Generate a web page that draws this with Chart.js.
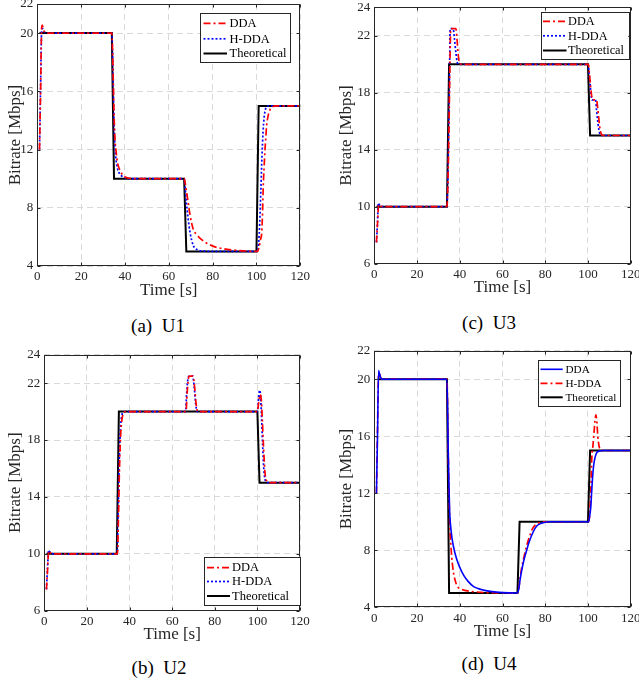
<!DOCTYPE html>
<html>
<head>
<meta charset="utf-8">
<script src="https://cdn.jsdelivr.net/npm/chart.js@4.4.1/dist/chart.umd.min.js"></script>
<style>
html,body{margin:0;padding:0;background:#fff;overflow:hidden;}
body{width:639px;height:681px;position:relative;}
canvas{position:absolute;}
.cap{position:absolute;font-family:"Liberation Serif","Times New Roman",serif;font-size:19px;color:#000;white-space:pre;transform:translate(-50%,-50%);}
</style>
</head>
<body>
<canvas id="u1"></canvas>
<canvas id="u3"></canvas>
<canvas id="u2"></canvas>
<canvas id="u4"></canvas>
<div class="cap" style="left:158px;top:326px">(a)  U1</div>
<div class="cap" style="left:489px;top:323px">(c)  U3</div>
<div class="cap" style="left:159px;top:668px">(b)  U2</div>
<div class="cap" style="left:489px;top:664px">(d)  U4</div>
<script>
const FONT = '"Liberation Serif", "Times New Roman", serif';

// tick labels
const xTicks = [0, 20, 40, 60, 80, 100, 120];
const yTicksU1 = [4, 8, 12, 16, 20, 22];
const yTicksU2 = [6, 10, 14, 18, 22, 24];
const yTicksU3 = [6, 10, 14, 18, 22, 24];
const yTicksU4 = [4, 8, 12, 16, 20, 22];

// U1
const theoTimeU1 = [1, 34, 35, 67, 68, 100, 101, 120];
const theoU1 = [20, 20, 10, 10, 5, 5, 15, 15];
const ddaTimeU1 = [1, 1.5, 2, 2.3, 2.7, 3.2, 4, 34, 34.3, 34.7, 35.1, 35.5, 36, 36.5, 37, 37.8, 38.5, 40, 42, 45, 67, 67.5, 68, 68.7, 69.7, 71.2, 72.8, 74.3, 77, 80.4, 85, 89.5, 95, 100.5, 101.2, 101.8, 102.4, 102.8, 103.1, 103.5, 103.9, 104.3, 104.6, 105.3, 106.2, 107.5, 109.2, 120];
const ddaU1 = [12, 16, 20.4, 20.55, 20.3, 20.1, 20, 20, 19, 16.5, 14, 12.6, 11.8, 11.2, 10.85, 10.55, 10.35, 10.12, 10.03, 10, 10, 9.7, 9.2, 8.5, 7.5, 6.5, 6.15, 5.9, 5.6, 5.35, 5.18, 5.1, 5.03, 5, 5.3, 5.8, 6.3, 7.8, 9.5, 10.8, 12, 12.9, 13.6, 14.3, 14.75, 14.95, 15, 15];
const hddaTimeU1 = [1, 1.5, 2, 2.5, 3, 4, 34, 34.3, 34.7, 35.1, 35.5, 36, 36.5, 37, 38, 40, 43, 67, 67.5, 68, 68.7, 69.7, 71.2, 73, 76, 80, 100.5, 101, 101.5, 102, 102.5, 103, 103.5, 104, 104.7, 106, 120];
const hddaU1 = [12, 16.3, 20.2, 20.3, 20.15, 20, 20, 18.8, 16, 13.5, 12, 11.2, 10.75, 10.5, 10.25, 10.06, 10, 10, 9.3, 8.4, 7.4, 6.3, 5.4, 5.12, 5.03, 5, 5, 5.6, 7, 9.2, 11.5, 13.2, 14.2, 14.7, 14.95, 15, 15];

// U2
const theoTimeU2 = [1, 34, 35, 100, 101, 120];
const theoU2 = [10, 10, 20, 20, 15, 15];
const ddaTimeU2 = [1, 1.5, 2, 2.5, 3, 5, 34.3, 34.8, 35.2, 35.6, 36, 36.5, 37, 38, 66.5, 67, 67.6, 68.2, 69.8, 70.5, 71.2, 72, 100, 100.5, 101.3, 101.8, 102.3, 102.8, 103.3, 103.8, 104.5, 105.5, 120];
const ddaU2 = [7.5, 8.8, 10.1, 10.2, 10.05, 10, 10, 12.5, 15.5, 17.5, 18.8, 19.5, 19.8, 20, 20, 21.2, 22.3, 22.5, 22.5, 21.8, 20.6, 20, 20, 20.5, 21.2, 20.9, 19.5, 17.8, 16.3, 15.4, 15.1, 15, 15];
const hddaTimeU2 = [1, 1.5, 2, 2.5, 3, 5, 34.2, 34.7, 35.1, 35.5, 36, 36.5, 37, 38, 66.3, 66.8, 67.4, 68, 69.6, 70.3, 71, 71.8, 100, 100.4, 101, 101.5, 102, 102.5, 103, 103.5, 104.2, 105, 120];
const hddaU2 = [7.5, 9, 10.25, 10.15, 10.05, 10, 10, 13, 16, 18, 19.3, 19.8, 19.95, 20, 20, 21.3, 22.3, 22.5, 22.5, 21.8, 20.6, 20, 20, 20.6, 21.5, 21.1, 19.4, 17.5, 16, 15.3, 15.05, 15, 15];

// U3
const theoTimeU3 = [1, 34, 35, 100, 101, 120];
const theoU3 = [10, 10, 20, 20, 15, 15];
const ddaTimeU3 = [1, 1.5, 2, 2.5, 3, 4, 34, 34.5, 35, 35.4, 35.8, 38.2, 38.7, 39.2, 39.8, 41, 100.2, 100.7, 101.2, 101.8, 102.2, 104, 104.5, 105, 105.5, 106, 106.5, 107.5, 120];
const ddaU3 = [7.5, 8.8, 10.1, 10.15, 10.05, 10, 10, 12, 16, 20, 22.5, 22.5, 21.8, 20.8, 20.1, 20, 20, 19.3, 18.5, 17.7, 17.5, 17.5, 17, 16.3, 15.6, 15.2, 15.05, 15, 15];
const hddaTimeU3 = [1, 1.5, 1.8, 2.3, 3, 4, 34, 34.5, 35, 35.3, 35.5, 36.9, 37.5, 38.2, 38.9, 40, 100.1, 100.5, 101, 101.5, 101.8, 103.5, 104, 104.5, 105, 105.5, 106.5, 120];
const hddaU3 = [7.5, 8.9, 10.25, 10.15, 10.05, 10, 10, 12.5, 17, 20.5, 22.5, 22.5, 21.8, 20.8, 20.1, 20, 20, 19.4, 18.6, 17.8, 17.5, 17.5, 16.8, 16.1, 15.5, 15.15, 15, 15];

// U4
const theoTimeU4 = [1.5, 34, 35, 67, 68, 100, 101, 120];
const theoU4 = [20, 20, 5, 5, 10, 10, 15, 15];
const ddaTimeU4 = [1, 1.5, 2, 2.4, 3, 4, 34, 34.6, 35.2, 36, 37, 38.5, 40, 42, 44, 46.5, 50, 55, 60, 67, 67.5, 68.2, 69, 70, 71.3, 72.5, 74.4, 76, 77.5, 80, 82, 100.3, 100.8, 101.3, 101.7, 102.2, 102.7, 103.3, 104.1, 105.5, 107, 120];
const ddaU4 = [12, 16, 20.6, 20.4, 20.1, 20, 20, 15, 11, 9.3, 8.3, 7.4, 6.8, 6.2, 5.8, 5.45, 5.25, 5.1, 5.03, 5, 5.2, 5.9, 6.6, 7.3, 8, 8.6, 9.3, 9.7, 9.85, 9.97, 10, 10, 10.4, 11, 12, 13.2, 14, 14.5, 14.85, 14.97, 15, 15];
const hddaTimeU4 = [1, 1.5, 2, 2.4, 3, 4, 34, 34.6, 35.2, 36, 37, 38, 39, 41, 45, 50, 55, 67, 67.5, 68.2, 69, 70, 71.3, 72.5, 74, 75.5, 77.5, 80, 100.3, 100.8, 101.3, 101.8, 102.3, 102.8, 103.3, 103.7, 104.1, 104.6, 105.2, 106, 107, 120];
const hddaU4 = [12, 16.5, 20.3, 20.4, 20.1, 20, 20, 15, 10.5, 8, 6.5, 5.8, 5.45, 5.25, 5.12, 5.05, 5.02, 5, 5.2, 6, 6.8, 7.5, 8.3, 8.9, 9.5, 9.8, 9.95, 10, 10, 10.5, 12, 14.5, 15.3, 16.2, 17.1, 17.5, 17.1, 16, 15.3, 15.05, 15, 15];

const styles = {
  redDashDot: {color: '#ff0000', width: 1.7, dash: [7, 3, 2, 3], smooth: true},
  blueDot: {color: '#0000ff', width: 1.7, dash: [2, 2], smooth: true},
  blueSolid: {color: '#0000ff', width: 1.6, dash: [], smooth: true},
  black: {color: '#000000', width: 2, dash: [], smooth: false}
};

// page coordinates: canvas [left, top, width, height], plot area [left, top, right, bottom]
const panels = [
  {id: 'u1', canvas: [0, -12, 320, 313], area: [37.3, 4, 300.3, 266], yTitleX: 16,
   yTicks: yTicksU1, yRange: [4, 22],
   legend: {box: [200.3, 13.3, 290.3, 62.3], rows: [23.3, 38.8, 53.5], line: [203.5, 227], text: 229.5, size: 12.5},
   series: [
     {label: 'DDA', t: ddaTimeU1, v: ddaU1, style: 'redDashDot'},
     {label: 'H-DDA', t: hddaTimeU1, v: hddaU1, style: 'blueDot'},
     {label: 'Theoretical', t: theoTimeU1, v: theoU1, style: 'black'}
   ]},
  {id: 'u3', canvas: [330, -8, 330, 306], area: [374.3, 7.3, 630.7, 263.7], yTitleX: 346.7,
   yTicks: yTicksU3, yRange: [6, 24],
   legend: {box: [540.7, 12, 628.3, 58.7], rows: [21.3, 35.8, 50.5], line: [543, 566.5], text: 568, size: 12.3},
   series: [
     {label: 'DDA', t: ddaTimeU3, v: ddaU3, style: 'redDashDot'},
     {label: 'H-DDA', t: hddaTimeU3, v: hddaU3, style: 'blueDot'},
     {label: 'Theoretical', t: theoTimeU3, v: theoU3, style: 'black'}
   ]},
  {id: 'u2', canvas: [0, 340, 320, 305], area: [44.3, 354.7, 300, 610.7], yTitleX: 16,
   yTicks: yTicksU2, yRange: [6, 24],
   legend: {box: [204, 556.7, 300, 605], rows: [567.7, 581.5, 596], line: [207, 230], text: 232, size: 12.5},
   series: [
     {label: 'DDA', t: ddaTimeU2, v: ddaU2, style: 'redDashDot'},
     {label: 'H-DDA', t: hddaTimeU2, v: hddaU2, style: 'blueDot'},
     {label: 'Theoretical', t: theoTimeU2, v: theoU2, style: 'black'}
   ]},
  {id: 'u4', canvas: [330, 340, 330, 302], area: [374.3, 350.7, 630.7, 607.3], yTitleX: 346.7,
   yTicks: yTicksU4, yRange: [4, 22],
   legend: {box: [538.3, 360, 620.7, 406], rows: [369.3, 383.3, 397.3], line: [540.5, 562.7], text: 565.5, size: 11.2},
   series: [
     {label: 'DDA', t: ddaTimeU4, v: ddaU4, style: 'blueSolid'},
     {label: 'H-DDA', t: hddaTimeU4, v: hddaU4, style: 'redDashDot'},
     {label: 'Theoretical', t: theoTimeU4, v: theoU4, style: 'black'}
   ]}
];

// box around the axes plus small inward ticks, like matlab
const framePlugin = {
  id: 'frame',
  afterDatasetsDraw(chart){
    const {ctx, chartArea: a, scales: {x, y}} = chart;
    const l = Math.round(a.left) + 0.5, r = Math.round(a.right) - 0.5;
    const t = Math.round(a.top) + 0.5, b = Math.round(a.bottom) - 0.5;
    ctx.save();
    ctx.strokeStyle = '#262626';
    ctx.lineWidth = 1;
    ctx.setLineDash([]);
    ctx.strokeRect(l, t, r - l, b - t);
    ctx.beginPath();
    x.ticks.forEach(tk=>{
      const px = Math.round(x.getPixelForValue(tk.value)) + 0.5;
      ctx.moveTo(px, b); ctx.lineTo(px, b - 3);
      ctx.moveTo(px, t); ctx.lineTo(px, t + 3);
    });
    y.ticks.forEach(tk=>{
      const py = Math.round(y.getPixelForValue(tk.value)) + 0.5;
      ctx.moveTo(l, py); ctx.lineTo(l + 3, py);
      ctx.moveTo(r, py); ctx.lineTo(r - 3, py);
    });
    ctx.stroke();
    ctx.restore();
  }
};

const legendPlugin = {
  id: 'boxLegend',
  afterDraw(chart, args, opts){
    const ctx = chart.ctx;
    const [l, t, r, b] = opts.box;
    ctx.save();
    ctx.fillStyle = '#fff';
    ctx.fillRect(l, t, r - l, b - t);
    ctx.strokeStyle = '#262626';
    ctx.lineWidth = 1;
    ctx.setLineDash([]);
    ctx.strokeRect(Math.round(l) + 0.5, Math.round(t) + 0.5, Math.round(r - l), Math.round(b - t));
    ctx.font = `${opts.size}px ${FONT}`;
    ctx.textBaseline = 'middle';
    chart.data.datasets.forEach((ds, i)=>{
      const yy = opts.rows[i];
      ctx.strokeStyle = ds.borderColor;
      ctx.lineWidth = ds.borderWidth;
      ctx.setLineDash(ds.borderDash || []);
      ctx.beginPath();
      ctx.moveTo(opts.line[0], yy);
      ctx.lineTo(opts.line[1], yy);
      ctx.stroke();
      ctx.fillStyle = '#000';
      ctx.fillText(ds.label, opts.text, yy + 0.5);
    });
    ctx.restore();
  }
};

function zeroPad(s){
  s.paddingLeft = 0; s.paddingRight = 0; s.paddingTop = 0; s.paddingBottom = 0;
}

function makePanel(p){
  const [cl, ct, cw, ch] = p.canvas;
  const [al, at, ar, ab] = p.area;
  const el = document.getElementById(p.id);
  el.width = cw; el.height = ch;
  el.style.left = cl + 'px'; el.style.top = ct + 'px';
  el.style.width = cw + 'px'; el.style.height = ch + 'px';

  const yW = al - cl;
  const xH = (ct + ch) - ab;
  const titleLH = 17 * 1.2;

  const datasets = p.series.map(s=>{
    const st = styles[s.style];
    return {
      label: s.label,
      data: s.t.map((x, i)=>({x, y: s.v[i]})),
      borderColor: st.color,
      borderWidth: st.width,
      borderDash: st.dash,
      pointRadius: 0,
      fill: false,
      cubicInterpolationMode: st.smooth ? 'monotone' : 'default',
      tension: 0
    };
  });

  const lg = p.legend;
  new Chart(el, {
    type: 'line',
    data: {datasets},
    plugins: [framePlugin, legendPlugin],
    options: {
      responsive: false,
      animation: false,
      devicePixelRatio: 1,
      layout: {padding: {left: 0, top: at - ct, right: (cl + cw) - ar, bottom: 0}},
      plugins: {
        legend: {display: false},
        tooltip: {enabled: false},
        boxLegend: {
          box: [lg.box[0] - cl, lg.box[1] - ct, lg.box[2] - cl, lg.box[3] - ct],
          rows: lg.rows.map(v=>v - ct),
          line: lg.line.map(v=>v - cl),
          text: lg.text - cl,
          size: lg.size
        }
      },
      scales: {
        x: {
          type: 'linear', min: 0, max: 120,
          afterBuildTicks: s=>{ s.ticks = xTicks.map(v=>({value: v})); },
          afterFit: s=>{ s.height = xH; zeroPad(s); },
          ticks: {font: {family: FONT, size: 13}, color: '#262626', padding: 3, maxRotation: 0, autoSkip: false},
          grid: {color: '#d9d9d9', lineWidth: 1, drawTicks: false},
          border: {display: false, dash: [6, 4]},
          title: {display: true, text: 'Time [s]', font: {family: FONT, size: 17}, color: '#262626', padding: 0}
        },
        y: {
          type: 'linear', min: p.yRange[0], max: p.yRange[1],
          afterBuildTicks: s=>{ s.ticks = p.yTicks.map(v=>({value: v})); },
          afterFit: s=>{ s.width = yW; zeroPad(s); },
          ticks: {font: {family: FONT, size: 13}, color: '#262626', padding: 4, autoSkip: false},
          grid: {color: '#d9d9d9', lineWidth: 1, drawTicks: false},
          border: {display: false, dash: [6, 4]},
          title: {display: true, text: 'Bitrate [Mbps]', font: {family: FONT, size: 17}, color: '#262626',
                  padding: {top: p.yTitleX - cl - titleLH / 2, bottom: 0}}
        }
      }
    }
  });
}

panels.forEach(makePanel);
</script>
</body>
</html>
